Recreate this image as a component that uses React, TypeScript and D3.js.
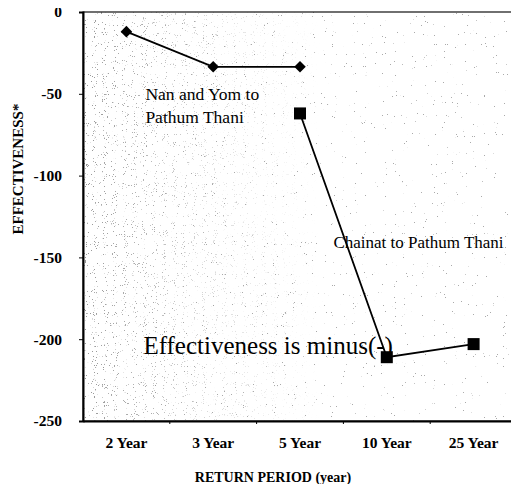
import React, { useEffect, useRef } from "react";
import * as d3 from "d3";

// return periods on the x axis
const periods = ["2 Year", "3 Year", "5 Year", "10 Year", "25 Year"];
// Nan and Yom to Pathum Thani (diamonds)
const nanYomPeriods = ["2 Year", "3 Year", "5 Year"];
const nanYomValues = [-12, -33.5, -33.5];
// Chainat to Pathum Thani (squares)
const chainatPeriods = ["5 Year", "10 Year", "25 Year"];
const chainatValues = [-62, -211, -203];
const yTicks = [0, -50, -100, -150, -200, -250];

const W = 519;
const H = 492;
const margin = { top: 12, right: 2, bottom: 71, left: 83 };
const serif = "Liberation Serif";

const App = () => {
  const svgRef = useRef<SVGSVGElement>(null);

  useEffect(() => {
    const svg = d3.select(svgRef.current);
    svg.selectAll("*").remove();

    const x = d3
      .scaleBand()
      .domain(periods)
      .range([margin.left, W - margin.right])
      .padding(0);
    const y = d3
      .scaleLinear()
      .domain([-250, 0])
      .range([H - margin.bottom, margin.top]);
    const cx = (p) => (x(p) as number) + x.bandwidth() / 2;
    const pw = W - margin.left - margin.right;
    const ph = H - margin.top - margin.bottom;

    // speckled background like the scanned original
    const defs = svg.append("defs");
    const speckle = (id, seed, a, b, grey) => {
      const f = defs
        .append("filter")
        .attr("id", id)
        .attr("x", 0)
        .attr("y", 0)
        .attr("width", 1)
        .attr("height", 1);
      f.append("feTurbulence")
        .attr("type", "fractalNoise")
        .attr("baseFrequency", 0.9)
        .attr("numOctaves", 2)
        .attr("seed", seed)
        .attr("result", "noise");
      f.append("feColorMatrix")
        .attr("in", "noise")
        .attr("type", "matrix")
        .attr("values", `0 0 0 0 ${grey}  0 0 0 0 ${grey}  0 0 0 0 ${grey}  ${a} 0 0 0 ${b}`);
    };
    speckle("speckle", 3, 30, -23.0, 0.4);
    speckle("speckle2", 9, 24, -16.6, 0.3);
    const grad = defs.append("linearGradient").attr("id", "leftfade");
    grad.append("stop").attr("offset", "0%").attr("stop-color", "#fff").attr("stop-opacity", 1);
    grad.append("stop").attr("offset", "30%").attr("stop-color", "#fff").attr("stop-opacity", 0.35);
    grad.append("stop").attr("offset", "55%").attr("stop-color", "#fff").attr("stop-opacity", 0);
    const mask = defs.append("mask").attr("id", "leftmask");
    mask
      .append("rect")
      .attr("x", margin.left)
      .attr("y", margin.top)
      .attr("width", pw)
      .attr("height", ph)
      .attr("fill", "url(#leftfade)");

    const plot = svg.append("g");
    plot
      .append("rect")
      .attr("x", margin.left)
      .attr("y", margin.top)
      .attr("width", pw)
      .attr("height", ph)
      .attr("fill", "#fff");
    plot
      .append("rect")
      .attr("x", margin.left)
      .attr("y", margin.top)
      .attr("width", pw)
      .attr("height", ph)
      .attr("filter", "url(#speckle)");
    plot
      .append("g")
      .attr("mask", "url(#leftmask)")
      .append("rect")
      .attr("x", margin.left)
      .attr("y", margin.top)
      .attr("width", pw)
      .attr("height", ph)
      .attr("filter", "url(#speckle2)");
    plot
      .append("rect")
      .attr("x", margin.left)
      .attr("y", margin.top)
      .attr("width", pw - 1)
      .attr("height", ph)
      .attr("fill", "none")
      .attr("stroke", "#111")
      .attr("stroke-width", 1.2);

    // y axis
    const yAxis = svg
      .append("g")
      .attr("transform", `translate(${margin.left},0)`)
      .call(
        d3
          .axisLeft(y)
          .tickValues(yTicks)
          .tickFormat((d) => String(d))
          .tickSize(4)
          .tickPadding(17)
      );
    yAxis.attr("font-family", null);
    yAxis.select(".domain").attr("stroke-width", 2);
    yAxis
      .selectAll("text")
      .style("font-family", serif)
      .style("font-weight", "bold")
      .style("font-size", "15.5px")
      .attr("fill", "#000");

    // x axis
    const xAxis = svg
      .append("g")
      .attr("transform", `translate(0,${H - margin.bottom})`)
      .call(d3.axisBottom(x).tickSize(0).tickPadding(16));
    xAxis.attr("font-family", null);
    xAxis.select(".domain").attr("stroke-width", 2);
    xAxis
      .selectAll("text")
      .style("font-family", serif)
      .style("font-weight", "bold")
      .style("font-size", "15.5px")
      .attr("fill", "#000");
    xAxis
      .selectAll(".sep")
      .data(periods.slice(1))
      .enter()
      .append("line")
      .attr("x1", (d) => x(d) as number)
      .attr("x2", (d) => x(d) as number)
      .attr("y1", 0)
      .attr("y2", 3)
      .attr("stroke", "#000");

    // axis titles
    svg
      .append("text")
      .attr("transform", `translate(23,${y(-96)}) rotate(-90)`)
      .attr("text-anchor", "middle")
      .style("font-family", serif)
      .style("font-weight", "bold")
      .style("font-size", "15px")
      .text("EFFECTIVENESS*");
    svg
      .append("text")
      .attr("x", 273)
      .attr("y", H - 10)
      .attr("text-anchor", "middle")
      .style("font-family", serif)
      .style("font-weight", "bold")
      .style("font-size", "14px")
      .text("RETURN PERIOD (year)");

    const line = d3
      .line<[string, number]>()
      .x((d) => cx(d[0]))
      .y((d) => y(d[1]));

    const nanData = nanYomPeriods.map((p, i) => [p, nanYomValues[i]] as [string, number]);
    const chaData = chainatPeriods.map((p, i) => [p, chainatValues[i]] as [string, number]);

    svg.append("path").attr("d", line(nanData)).attr("fill", "none").attr("stroke", "#000").attr("stroke-width", 1.8);
    svg.append("path").attr("d", line(chaData)).attr("fill", "none").attr("stroke", "#000").attr("stroke-width", 1.8);

    svg
      .selectAll(".diamond")
      .data(nanData)
      .enter()
      .append("path")
      .attr("d", d3.symbol(d3.symbolDiamond2, 85))
      .attr("transform", (d) => `translate(${cx(d[0])},${y(d[1])})`)
      .attr("fill", "#000");
    svg
      .selectAll(".square")
      .data(chaData)
      .enter()
      .append("rect")
      .attr("x", (d) => cx(d[0]) - 6)
      .attr("y", (d) => y(d[1]) - 6)
      .attr("width", 12)
      .attr("height", 12)
      .attr("fill", "#000");

    // annotations
    const note = (txt, xx, yy, size) =>
      svg
        .append("text")
        .attr("x", xx)
        .attr("y", yy)
        .style("font-family", serif)
        .style("font-size", size + "px")
        .attr("fill", "#000")
        .text(txt);
    note("Nan and Yom to", cx("2 Year") + 19, y(-54), 17.5);
    note("Pathum Thani", cx("2 Year") + 19, y(-68), 17.5);
    note("Chainat to Pathum Thani", x("10 Year") - 10, y(-144), 17);
    note("Effectiveness is minus(-)", cx("2 Year") + 17, y(-209), 25);
  }, []);

  return (
    <div style={{ margin: -8 }}>
      <svg ref={svgRef} width={W} height={H} style={{ display: "block", background: "#fff" }} />
    </div>
  );
};

export default App;
